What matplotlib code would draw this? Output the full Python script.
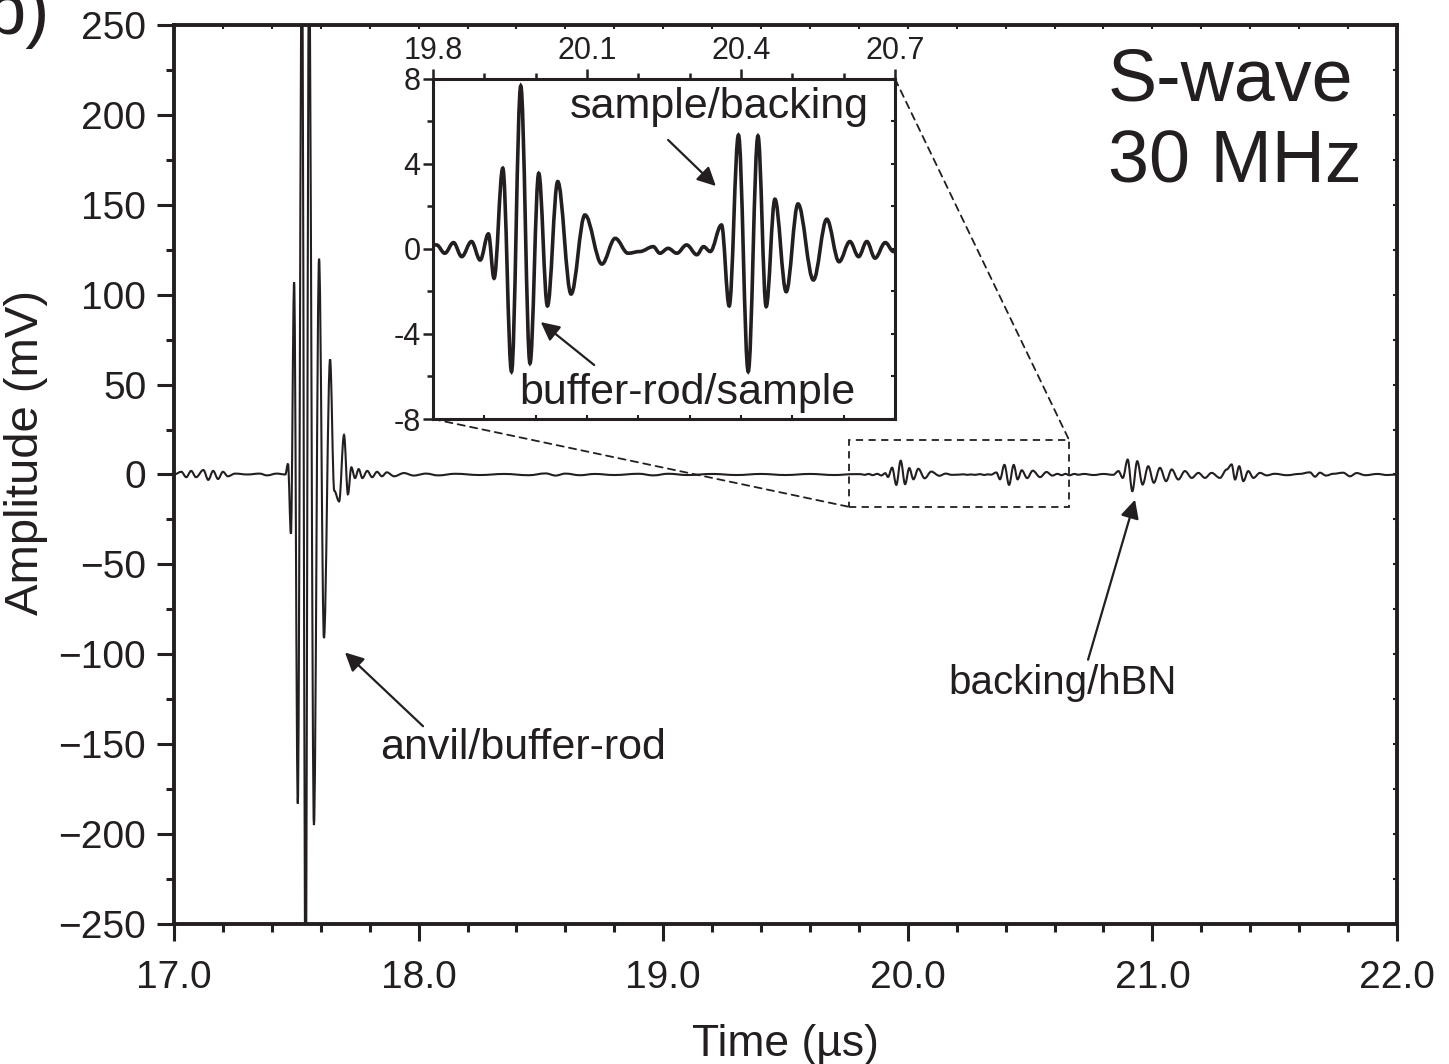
import matplotlib
matplotlib.use('Agg')
import numpy as np
import matplotlib.pyplot as plt
from matplotlib.patches import Rectangle, ConnectionPatch, PathPatch
from matplotlib.path import Path
from matplotlib.ticker import MultipleLocator

# Données (temps en µs, amplitude en mV) : extrema du signal
pre_t = [17.00, 17.03, 17.05, 17.07, 17.09, 17.12, 17.14, 17.16, 17.18, 17.20,
         17.22, 17.25, 17.30, 17.35, 17.38, 17.42, 17.455]
pre_a = [0.0, 1.5, -1.5, 2.0, -1.5, 2.5, -3.0, 2.0, -2.5, 1.5,
         -1.0, 0.5, 0.0, 0.5, -0.5, 0.5, 0.0]

# écho anvil/buffer-rod (pics écrêtés au-delà de ±250)
burst_t = [17.466, 17.478, 17.491, 17.506, 17.523, 17.538, 17.552, 17.572, 17.593,
           17.613, 17.638, 17.655, 17.675, 17.695, 17.711, 17.725, 17.740, 17.755,
           17.770, 17.790, 17.810, 17.830, 17.850]
burst_a = [6, -33, 107, -183, 300, -300, 290, -195, 120,
           -91, 64, -9, -15, 22, -11, 4, -2, 3,
           -2, 2, -1.5, 1.5, -1]

mid_t = [17.87, 17.90, 17.94, 17.98, 18.03, 18.08, 18.15, 18.25, 18.35, 18.45,
         18.52, 18.56, 18.60, 18.66, 18.72, 18.80, 18.90, 18.96, 19.02, 19.10,
         19.20, 19.30, 19.40, 19.50, 19.60, 19.70, 19.78]
mid_a = [1.2, -1.0, 0.8, -0.6, 0.5, -0.5, 0.4, -0.3, 0.3, -0.4,
         0.6, -0.6, 0.5, -0.4, 0.3, -0.3, 0.4, -0.5, 0.4, -0.3,
         0.3, -0.3, 0.3, -0.3, 0.3, -0.3, 0.2]

# échos buffer-rod/sample et sample/backing (zone de l'encart)
echo_t = [19.807, 19.823, 19.840, 19.856, 19.875, 19.892, 19.908, 19.919, 19.936, 19.953,
          19.971, 19.989, 20.006, 20.023, 20.043, 20.069, 20.096, 20.129, 20.155, 20.180,
          20.203, 20.229, 20.242, 20.258, 20.275, 20.294, 20.314, 20.327, 20.340, 20.362,
          20.377, 20.395, 20.414, 20.433, 20.449, 20.466, 20.488, 20.511, 20.541, 20.567,
          20.591, 20.612, 20.629, 20.645, 20.661, 20.681, 20.697]
echo_a = [0.19, -0.20, 0.30, -0.36, 0.35, -0.52, 0.71, -1.38, 3.80, -5.77,
          7.67, -5.38, 3.56, -2.68, 3.17, -2.12, 1.60, -0.71, 0.50, -0.20,
          -0.12, 0.11, -0.20, 0.03, -0.20, 0.19, -0.27, 0.11, -0.12, 1.13,
          -2.68, 5.36, -5.77, 5.32, -2.71, 2.34, -2.01, 2.12, -1.46, 1.40,
          -0.60, 0.35, -0.36, 0.35, -0.43, 0.30, -0.12]

# écho backing/hBN et fin du signal
tail_t = [20.72, 20.76, 20.80, 20.84, 20.861, 20.879, 20.899, 20.918, 20.938, 20.960,
          20.983, 21.006, 21.031, 21.056, 21.079, 21.106, 21.133, 21.161, 21.188, 21.215,
          21.242, 21.276, 21.304, 21.324, 21.338, 21.355, 21.372, 21.392, 21.413, 21.440,
          21.467, 21.50, 21.55, 21.60, 21.644, 21.665, 21.685, 21.71, 21.74, 21.78,
          21.808, 21.835, 21.87, 21.92, 21.96, 22.00]
tail_a = [0.3, -0.3, 0.3, -0.2, 1.9, -1.9, 8.3, -9.3, 7.4, -5.6,
          4.6, -4.6, 3.7, -3.7, 2.8, -2.8, 1.9, -1.9, 0.9, -1.9,
          0.9, -1.9, 2.8, 5.6, -2.8, 4.6, -3.7, 1.9, -1.9, 0.9,
          -0.5, 0.4, -0.4, 0.3, 1.2, -1.2, 1.0, -0.6, 0.4, 1.0,
          -1.0, 0.8, -0.4, 0.3, -0.3, 0.0]

x_ticks = [17.0, 18.0, 19.0, 20.0, 21.0, 22.0]
x_labels = ['17.0', '18.0', '19.0', '20.0', '21.0', '22.0']
y_ticks = [-250, -200, -150, -100, -50, 0, 50, 100, 150, 200, 250]
y_labels = ['\u2212250', '\u2212200', '\u2212150', '\u2212100', '\u221250', '0',
            '50', '100', '150', '200', '250']
in_x_ticks = [19.8, 20.1, 20.4, 20.7]
in_x_labels = ['19.8', '20.1', '20.4', '20.7']
in_y_ticks = [-8, -4, 0, 4, 8]
in_y_labels = ['-8', '-4', '0', '4', '8']

t_all = np.concatenate([pre_t, burst_t, mid_t, echo_t, tail_t])
a_all = np.concatenate([pre_a, burst_a, mid_a, echo_a, tail_a])


def wave_path(t, a, k=0.36):
    # courbe lisse passant par les extrema lus (tangente horizontale à chaque point)
    verts = [(t[0], a[0])]
    codes = [Path.MOVETO]
    for i in range(1, len(t)):
        d = t[i] - t[i - 1]
        verts += [(t[i - 1] + k * d, a[i - 1]), (t[i] - k * d, a[i]), (t[i], a[i])]
        codes += [Path.CURVE4] * 3
    return Path(verts, codes)


plt.rcParams['font.family'] = ['Liberation Sans', 'DejaVu Sans']
ink = '#231f20'

fig = plt.figure(figsize=(14.49, 10.64), dpi=100)

# Graphique principal
ax = fig.add_axes([0.1201, 0.1316, 0.8440, 0.8449])
ax.add_patch(PathPatch(wave_path(t_all, a_all), fill=False, lw=1.5, edgecolor=ink))
ax.set_xlim(17, 22)
ax.set_ylim(-250, 250)
ax.set_xticks(x_ticks)
ax.set_xticklabels(x_labels)
ax.set_yticks(y_ticks)
ax.set_yticklabels(y_labels)
ax.xaxis.set_minor_locator(MultipleLocator(0.2))
ax.yaxis.set_minor_locator(MultipleLocator(25))
ax.tick_params(which='major', direction='out', length=12, width=2.2, labelsize=28,
               pad=8, color=ink, labelcolor=ink)
ax.tick_params(axis='x', which='major', pad=14)
ax.tick_params(which='minor', direction='out', length=6, width=2.2, color=ink)
for s in ax.spines.values():
    s.set_linewidth(2.8)
    s.set_color(ink)

# petites graduations en haut et à droite
sec_x = ax.secondary_xaxis('top')
sec_x.set_xticks(x_ticks)
sec_x.xaxis.set_minor_locator(MultipleLocator(0.2))
sec_x.tick_params(which='both', direction='in', length=3, width=1.5, labeltop=False, color=ink)
sec_y = ax.secondary_yaxis('right')
sec_y.set_yticks(y_ticks)
sec_y.yaxis.set_minor_locator(MultipleLocator(25))
sec_y.tick_params(which='both', direction='in', length=3, width=1.5, labelright=False, color=ink)

ax.set_xlabel('Time (\u00b5s)', fontsize=32, color=ink, labelpad=20)
ax.set_ylabel('Amplitude (mV)', fontsize=34, color=ink)
ax.yaxis.set_label_coords(-0.103, 0.525)

ax.text(20.818, 196, 'S-wave\n30 MHz', fontsize=53, color=ink, ha='left', va='center',
        linespacing=1.25)
ax.text(17.842, -152, 'anvil/buffer-rod', fontsize=31, color=ink, ha='left', va='center')
ax.text(20.164, -116, 'backing/hBN', fontsize=29, color=ink, ha='left', va='center')
arrow = dict(arrowstyle='-|>', lw=1.6, mutation_scale=28, color=ink, shrinkA=0, shrinkB=0)
ax.annotate('', xy=(17.699, -99), xytext=(18.018, -140), arrowprops=arrow)
ax.annotate('', xy=(20.929, -14), xytext=(20.737, -103), arrowprops=arrow)

# zone agrandie
ax.add_patch(Rectangle((19.76, -18), 0.90, 37, fill=False, ls=(0, (4, 3)), lw=1.3,
                       edgecolor=ink))

fig.text(0.034, 0.985, 'b)', fontsize=52, color=ink, ha='right', va='center')

# Encart
axin = fig.add_axes([0.2988, 0.6062, 0.3189, 0.3196])
axin.add_patch(PathPatch(wave_path(t_all, a_all), fill=False, lw=2.6, edgecolor=ink))
axin.set_xlim(19.8, 20.7)
axin.set_ylim(-8, 8)
axin.xaxis.tick_top()
axin.set_xticks(in_x_ticks)
axin.set_xticklabels(in_x_labels)
axin.set_yticks(in_y_ticks)
axin.set_yticklabels(in_y_labels)
axin.xaxis.set_minor_locator(MultipleLocator(0.1))
axin.yaxis.set_minor_locator(MultipleLocator(2))
axin.tick_params(which='major', direction='out', length=7, width=1.8, labelsize=22,
                 pad=2, color=ink, labelcolor=ink)
axin.tick_params(which='minor', direction='out', length=4, width=1.8, color=ink)
for s in axin.spines.values():
    s.set_linewidth(2.2)
    s.set_color(ink)
in_sx = axin.secondary_xaxis('bottom')
in_sx.set_xticks(in_x_ticks)
in_sx.xaxis.set_minor_locator(MultipleLocator(0.1))
in_sx.tick_params(which='both', direction='in', length=3, width=1.5, labelbottom=False, color=ink)
in_sy = axin.secondary_yaxis('right')
in_sy.set_yticks(in_y_ticks)
in_sy.yaxis.set_minor_locator(MultipleLocator(2))
in_sy.tick_params(which='both', direction='in', length=3, width=1.5, labelright=False, color=ink)

axin.text(20.067, 6.68, 'sample/backing', fontsize=31, color=ink, ha='left', va='center')
axin.text(19.969, -6.78, 'buffer-rod/sample', fontsize=31, color=ink, ha='left', va='center')
axin.annotate('', xy=(20.351, 2.96), xytext=(20.258, 5.13), arrowprops=arrow)
axin.annotate('', xy=(20.010, -3.44), xytext=(20.114, -5.46), arrowprops=arrow)

# lignes de liaison en pointillés
for pa, pb in [((0, 0), (19.76, -18)), ((1, 1), (20.66, 19))]:
    cp = ConnectionPatch(xyA=pa, coordsA=axin.transAxes, xyB=pb, coordsB=ax.transData,
                         ls=(0, (4, 3)), lw=1.3, color=ink)
    fig.add_artist(cp)

fig.savefig('out.png', dpi=100)
